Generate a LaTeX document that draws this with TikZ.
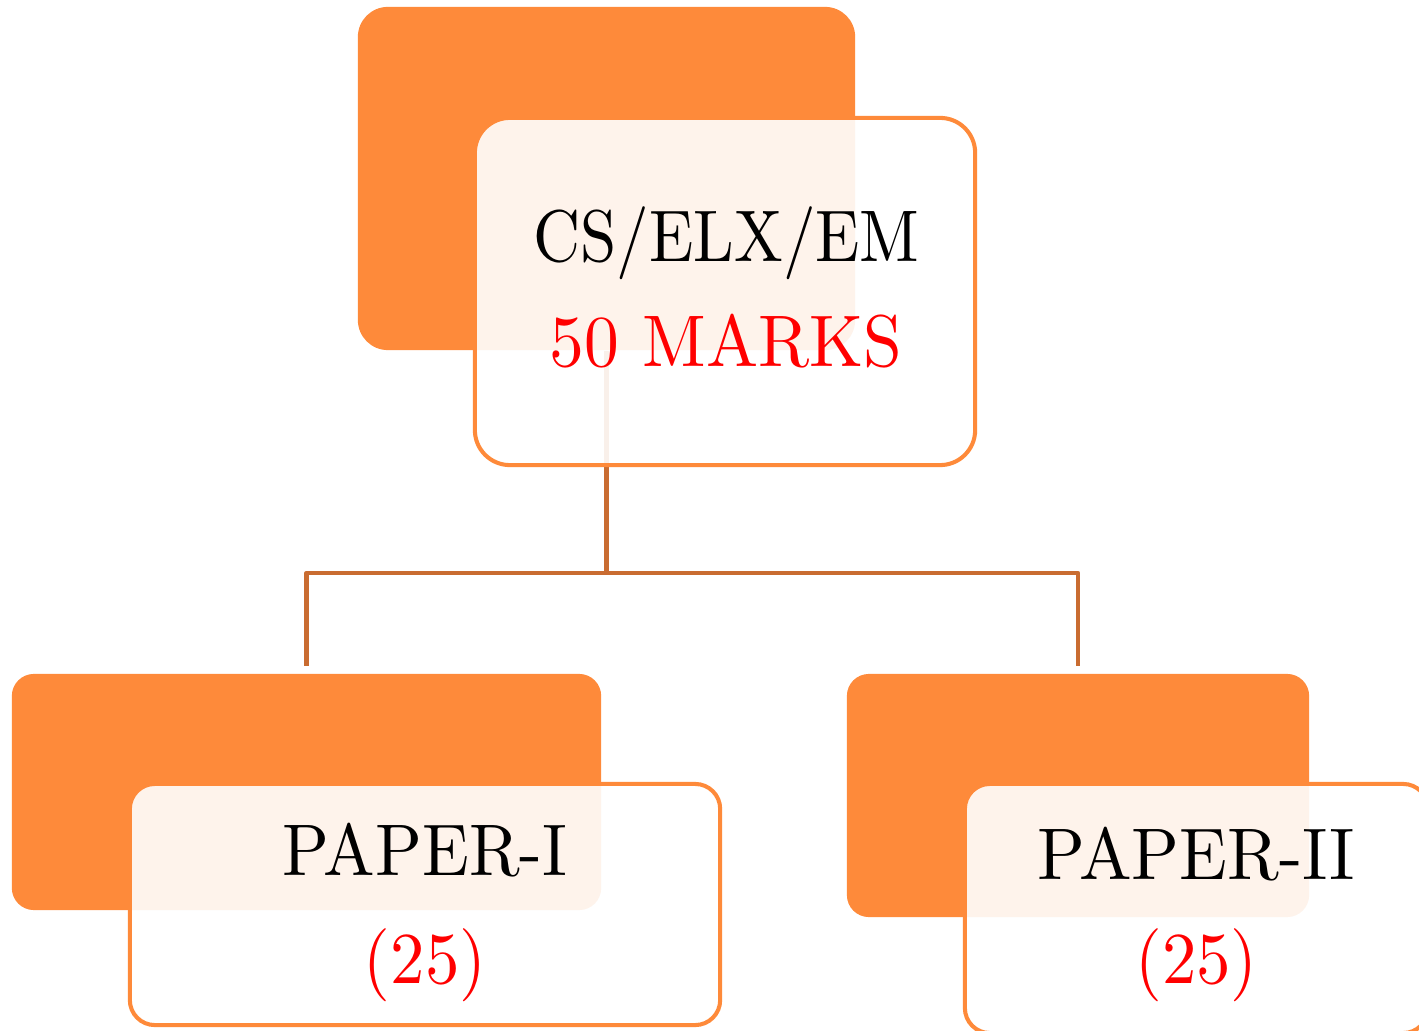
\documentclass[tikz,border=0pt]{standalone}
\usepackage{fontspec}
\newfontfamily\lmten{lmroman10-regular}[Extension=.otf]
\usepackage{tikz}
\usetikzlibrary{positioning,calc,backgrounds}
\definecolor{boxorange}{HTML}{FE8A3A}
\definecolor{linkbrown}{HTML}{C96C31}
\newcommand{\narrow}[2][0.94]{\scalebox{#1}[1]{#2}}
\begin{document}
\begin{tikzpicture}[x=0.01cm,y=-0.01cm,font=\lmten\fontsize{20.8}{29}\selectfont]
\tikzstyle{back}=[fill=boxorange,inner sep=0pt,rounded corners=0.3cm]
\tikzstyle{front}=[draw=boxorange,line width=1.15pt,fill=white,fill opacity=0.9,inner sep=0pt,rounded corners=0.3cm]
\tikzstyle{link}=[draw=linkbrown,line width=1.15pt,line join=round]
\useasboundingbox (0,0) rectangle (1419,1031);
% top box
\node[back,minimum width=4.97cm,minimum height=3.43cm] (tb) at (606.5,178.5) {};
\node[front,minimum width=5.00cm,minimum height=3.47cm,rounded corners=0.35cm] (tf) at (725,291.5) {};
\node[anchor=base] (tname) at (726.5,262) {\narrow[0.89]{CS/ELX/EM}};
\node[anchor=base,text=red] (tmarks) at (726,366.5) {\narrow[0.95]{50 MARKS}};
% paper I
\node[back,minimum width=5.89cm,minimum height=2.36cm,rounded corners=0.22cm] (lb) at (306.5,792) {};
\node[front,minimum width=5.90cm,minimum height=2.41cm,rounded corners=0.25cm] (lf) at (425,904.5) {};
\node[anchor=base] (lname) at (425,875) {\narrow{PAPER-I}};
\node[anchor=base,text=red] (lmarks) at (425,983) {\narrow{(25)}};
% paper II
\node[back,minimum width=4.62cm,minimum height=2.43cm,rounded corners=0.22cm] (rb) at (1078,795.5) {};
\node[front,minimum width=4.63cm,minimum height=2.49cm,rounded corners=0.25cm] (rf) at (1196.5,908.5) {};
\node[anchor=base] (rname) at (1196,879) {\narrow[0.96]{PAPER-II}};
\node[anchor=base,text=red] (rmarks) at (1196.5,983) {\narrow{(25)}};
% connectors
\begin{scope}[on background layer]
\coordinate (fork) at ($(tb.south)+(0,222)$);
\draw[link] (tb.south) -- (fork);
\draw[link,shorten >=2pt] (fork) -| (lb.north);
\draw[link,shorten >=2pt] (fork) -| (rb.north);
\end{scope}
\end{tikzpicture}
\end{document}
